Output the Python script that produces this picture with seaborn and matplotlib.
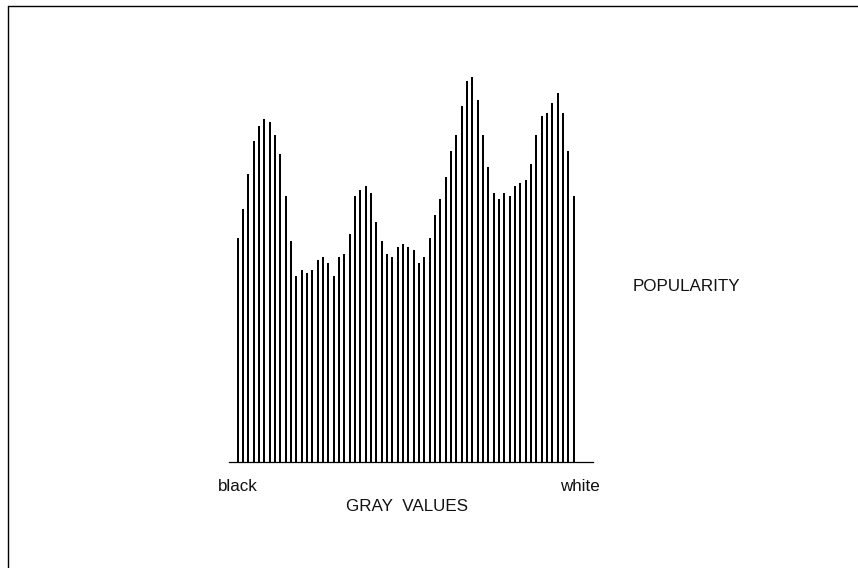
import matplotlib
matplotlib.use("Agg")
import matplotlib.pyplot as plt
from matplotlib.lines import Line2D
import seaborn as sns
import pandas as pd

# Histogram of gray values: how often each gray level occurs
gray_levels = list(range(64))
popularity = [
    224.7, 253.7, 288.7, 321.0, 336.7, 343.3, 340.3, 327.3, 308.0, 266.3,
    221.7, 186.3, 192.7, 189.7, 192.7, 202.3, 205.3, 199.3, 186.3, 205.3,
    208.7, 228.0, 266.3, 272.7, 276.0, 269.7, 240.7, 221.7, 208.7, 205.3,
    215.3, 218.3, 215.3, 212.0, 199.3, 205.3, 224.7, 247.3, 263.3, 285.7,
    311.3, 327.3, 356.0, 381.7, 385.0, 362.7, 327.3, 295.3, 269.7, 263.3,
    269.7, 266.3, 276.0, 279.3, 282.7, 298.3, 327.3, 346.7, 349.7, 359.3,
    369.0, 349.7, 311.3, 266.3,
]
end_labels = ["black", "white"]
x_title = "GRAY  VALUES"
y_title = "POPULARITY"

sns.set_theme(style="white")
plt.rcParams["font.family"] = ["Liberation Sans", "DejaVu Sans"]

W, H = 858, 568
fig = plt.figure(figsize=(W / 100, H / 100), dpi=100)
fig.patch.set_facecolor("white")

# axes placed in pixel terms: baseline at y=462, spanning x 229..593
left_px, right_px = 229.3, 592.7
base_px, top_px = 462.3, 60.3
ax = fig.add_axes([left_px / W, (H - base_px) / H,
                   (right_px - left_px) / W, (base_px - top_px) / H])

df = pd.DataFrame({"gray": gray_levels, "count": popularity})
sns.barplot(data=df, x="gray", y="count", color="black", width=0.41,
            saturation=1, ax=ax, edgecolor="none")

step = (573.7 - 237.7) / 63
ax.set_xlim((left_px - 237.7) / step, (right_px - 237.7) / step)
ax.set_ylim(0, base_px - top_px)
ax.set_xticks([])
ax.set_yticks([])
ax.set_xlabel("")
ax.set_ylabel("")
ax.set_facecolor("none")
for side in ("top", "right", "left"):
    ax.spines[side].set_visible(False)
ax.spines["bottom"].set_color("black")
ax.spines["bottom"].set_linewidth(0.9)

def put(x, y, s, ha):
    fig.text(x / W, 1 - y / H, s, ha=ha, va="baseline", fontsize=12.25,
             color="#111111")

put(237.8, 491, end_labels[0], "center")
put(579.5, 491, end_labels[1], "center")
put(407, 510.7, x_title, "center")
put(632.5, 290.7, y_title, "left")

# outer frame: left and top edges
fig.add_artist(Line2D([7.5 / W, 7.5 / W], [0, 1 - 5.5 / H],
                      color="black", lw=1.0, transform=fig.transFigure))
fig.add_artist(Line2D([7.5 / W, 1], [1 - 5.5 / H, 1 - 5.5 / H],
                      color="black", lw=1.0, transform=fig.transFigure))

fig.savefig("out.png", dpi=100, facecolor="white")
